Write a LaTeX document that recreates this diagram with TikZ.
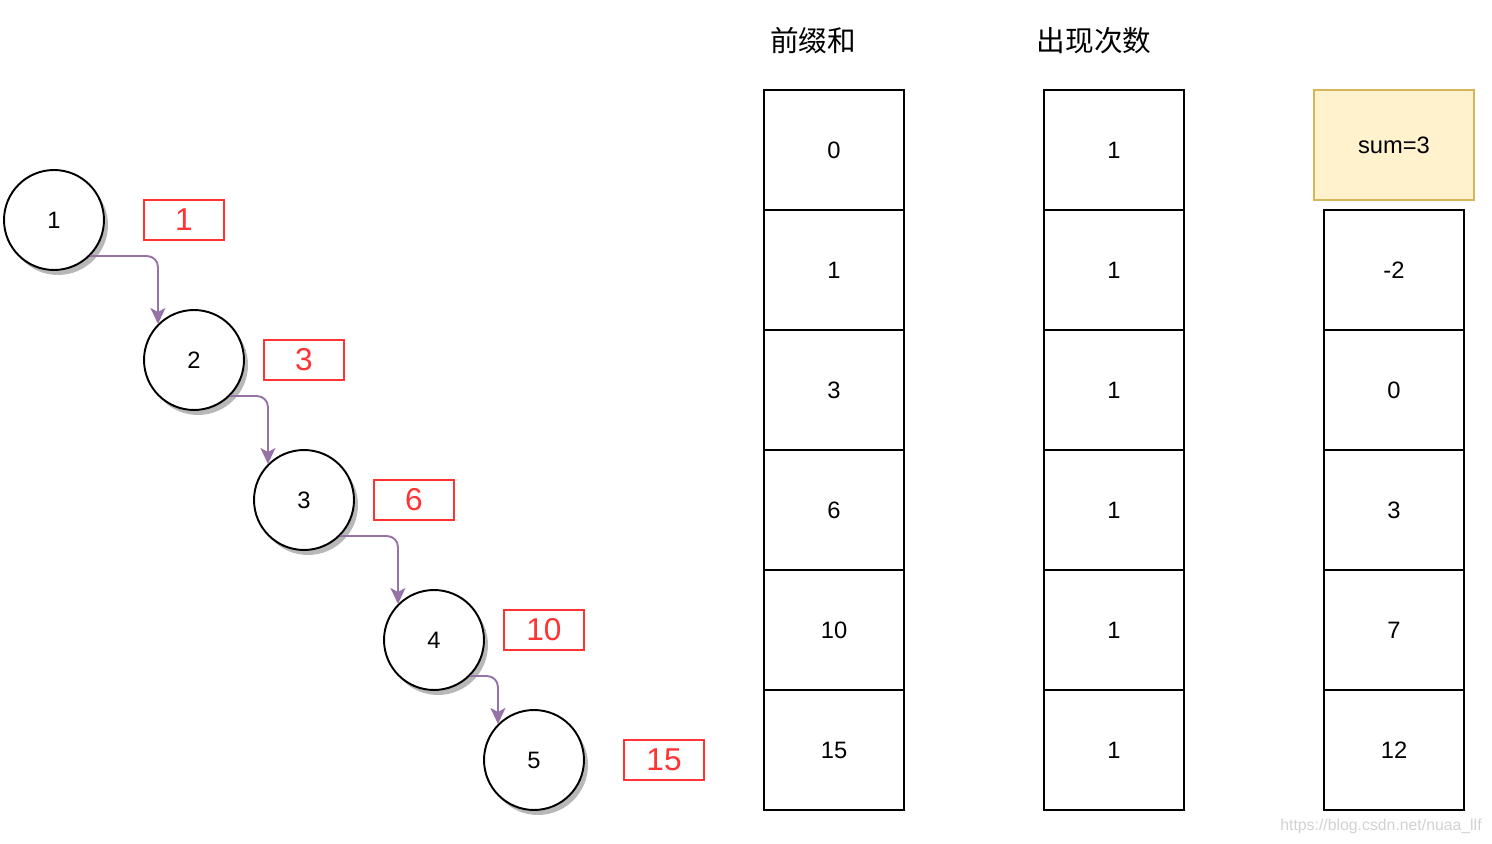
\documentclass[tikz,border=0pt]{standalone}
\usepackage{fontspec}
\setmainfont{Liberation Sans}
\newfontfamily\cjk{Noto Sans CJK SC}
\usetikzlibrary{arrows.meta,shadows}
\definecolor{linkpurple}{HTML}{9673A6}
\definecolor{sumfill}{HTML}{FFF2CC}
\definecolor{sumdraw}{HTML}{D6B656}
\definecolor{sumred}{HTML}{FF3333}

\begin{document}
\begin{tikzpicture}[x=0.02cm,y=-0.02cm,
    treenode/.style={circle,draw=black,line width=1.1pt,fill=white,minimum size=2cm,inner sep=0pt,
      font=\fontsize{13.5}{16}\selectfont,
      drop shadow={shadow xshift=0.08cm,shadow yshift=-0.1cm,fill=black!28,opacity=1}},
    sumbox/.style={draw=sumred,line width=0.9pt,minimum width=1.6cm,minimum height=0.8cm,inner sep=0pt,
      text=sumred,font=\fontsize{18}{21}\selectfont},
    cell/.style={draw=black,line width=1.1pt,minimum width=2.8cm,minimum height=2.4cm,inner sep=0pt,
      font=\fontsize{13.5}{16}\selectfont},
    link/.style={draw=linkpurple,line width=1.1pt,rounded corners=0.22cm,
      -{Stealth[length=0.32cm,width=0.3cm,inset=0.08cm]}},
    header/.style={font=\cjk\fontsize{16.3}{19}\selectfont}]
    \useasboundingbox (0,0) rectangle (1492,844);

    % the nodes and their prefix sums
    \node [treenode] (n1) at (54,220) {1};
    \node [treenode] (n2) at (194,360) {2};
    \node [treenode] (n3) at (304,500) {3};
    \node [treenode] (n4) at (434,640) {4};
    \node [treenode] (n5) at (534,760) {5};
    \node [sumbox] (s1) at (184,220) {1};
    \node [sumbox] (s2) at (304,360) {3};
    \node [sumbox] (s3) at (414,500) {6};
    \node [sumbox] (s4) at (544,630) {10};
    \node [sumbox] (s5) at (664,760) {15};
    \draw [link] (n1.south east) -| (n2.north west);
    \draw [link] (n2.south east) -| (n3.north west);
    \draw [link] (n3.south east) -| (n4.north west);
    \draw [link] (n4.south east) -| (n5.north west);

    % prefix sum column
    \node [header] (hsum) at (813,41) {前缀和};
    \node [cell] (p0) at (834,150) {0};
    \node [cell] (p1) at (834,270) {1};
    \node [cell] (p2) at (834,390) {3};
    \node [cell] (p3) at (834,510) {6};
    \node [cell] (p4) at (834,630) {10};
    \node [cell] (p5) at (834,750) {15};

    % count column
    \node [header] (hcount) at (1094,41) {出现次数};
    \node [cell] (c0) at (1114,150) {1};
    \node [cell] (c1) at (1114,270) {1};
    \node [cell] (c2) at (1114,390) {1};
    \node [cell] (c3) at (1114,510) {1};
    \node [cell] (c4) at (1114,630) {1};
    \node [cell] (c5) at (1114,750) {1};

    % differences to sum
    \node [draw=sumdraw,fill=sumfill,line width=0.9pt,minimum width=3.2cm,minimum height=2.2cm,
      font=\fontsize{13.5}{16}\selectfont] (target) at (1394,145) {sum=3};
    \node [cell] (d1) at (1394,270) {-2};
    \node [cell] (d2) at (1394,390) {0};
    \node [cell] (d3) at (1394,510) {3};
    \node [cell] (d4) at (1394,630) {7};
    \node [cell] (d5) at (1394,750) {12};

    \node [text=black!18,font=\fontsize{9}{11}\selectfont] (mark) at (1381,826) {https://blog.csdn.net/nuaa\_llf};
\end{tikzpicture}
\end{document}
